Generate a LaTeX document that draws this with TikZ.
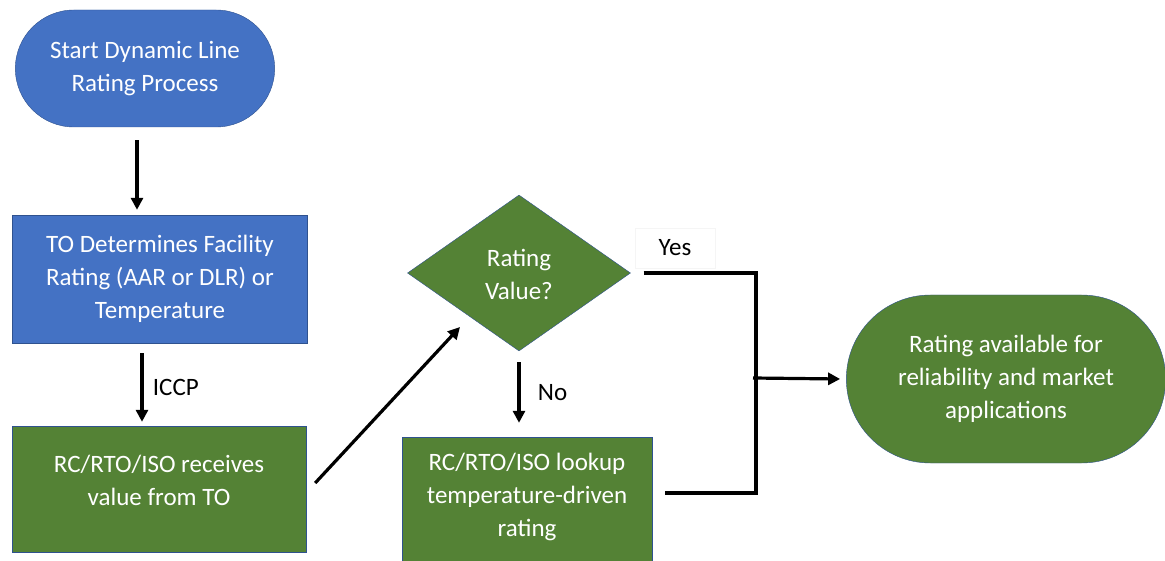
\documentclass[tikz,border=0pt]{standalone}
\usepackage{fontspec}
\setmainfont{Carlito}
\usetikzlibrary{shapes.misc,shapes.geometric,arrows.meta}
\definecolor{offblue}{HTML}{4472C4}
\definecolor{offgreen}{HTML}{548235}
\definecolor{offedge}{HTML}{2F528F}
\tikzstyle{sblue}=[rounded rectangle, draw=offedge, thin, fill=offblue, text=white, align=center]
\tikzstyle{sgreen}=[rounded rectangle, draw=offedge, thin, fill=offgreen, text=white, align=center]
\tikzstyle{bblue}=[rectangle, draw=offedge, thin, fill=offblue, text=white, align=center]
\tikzstyle{bgreen}=[rectangle, draw=offedge, thin, fill=offgreen, text=white, align=center]
\tikzstyle{dgreen}=[diamond, draw=offedge, thin, fill=offgreen, text=white, align=center, inner sep=0pt]
\tikzstyle{flow}=[line width=3.2pt, -{Triangle[length=12pt,width=12pt]}]
\tikzstyle{wire}=[line width=3.2pt]

\begin{document}
\begin{tikzpicture}[x=1pt, y=-1pt, font=\fontsize{25}{33}\selectfont]
\useasboundingbox (0,0) rectangle (1165,561);

\node[sblue, minimum width=266pt, minimum height=117pt] (start) at (145,68.5) {Start Dynamic Line\\Rating Process};
\node[bblue, minimum width=295pt, minimum height=128pt] (todet) at (160,279) {TO Determines Facility\\Rating (AAR or DLR) or\\Temperature};
\node[bgreen, minimum width=294pt, minimum height=126pt] (recv) at (159,489) {\raisebox{7pt}[\height][\depth]{\begin{tabular}{@{}c@{}}RC/RTO/ISO receives\\value from TO\end{tabular}}};
\node[dgreen, minimum width=223pt, minimum height=156pt] (decide) at (519,273) {\raisebox{-3pt}[\height][\depth]{\begin{tabular}{@{}c@{}}Rating\\Value?\end{tabular}}};
\node[bgreen, minimum width=250pt, minimum height=128pt] (lookup) at (527,501) {\raisebox{4pt}[\height][\depth]{\begin{tabular}{@{}c@{}}RC/RTO/ISO lookup\\temperature-driven\\rating\end{tabular}}};
\node[sgreen, minimum width=326pt, minimum height=168pt] (avail) at (1006,379) {Rating available for\\reliability and market\\applications};
\coordinate (join) at (756,378);

\draw[flow] ([xshift=-8pt,yshift=-13pt]start.south) -- ([xshift=-8pt,yshift=5pt]start.south |- todet.north);
\draw[flow] ([xshift=-18pt,yshift=-10pt]todet.south) -- ([xshift=-18pt,yshift=4pt]todet.south |- recv.north) node[midway, right=6pt, text=black] {ICCP};
\draw[flow] ([xshift=9pt,yshift=6pt]recv.east) -- ([xshift=-59pt,yshift=-54pt]decide.center);
\draw[flow] ([yshift=-11pt]decide.south) -- ([yshift=14pt]decide.south |- lookup.north) node[midway, right=14pt, text=black] {No};
\draw[wire] ([xshift=13pt]decide.east) -| (join) |- ([xshift=13pt,yshift=8pt]lookup.east);
\draw[flow] ([xshift=-3pt]join) -- ([xshift=-6pt]avail.west);
\node[draw=black!4, fill=white, minimum width=80pt, minimum height=40pt] (yes) at (675,248) {Yes};

\end{tikzpicture}
\end{document}
